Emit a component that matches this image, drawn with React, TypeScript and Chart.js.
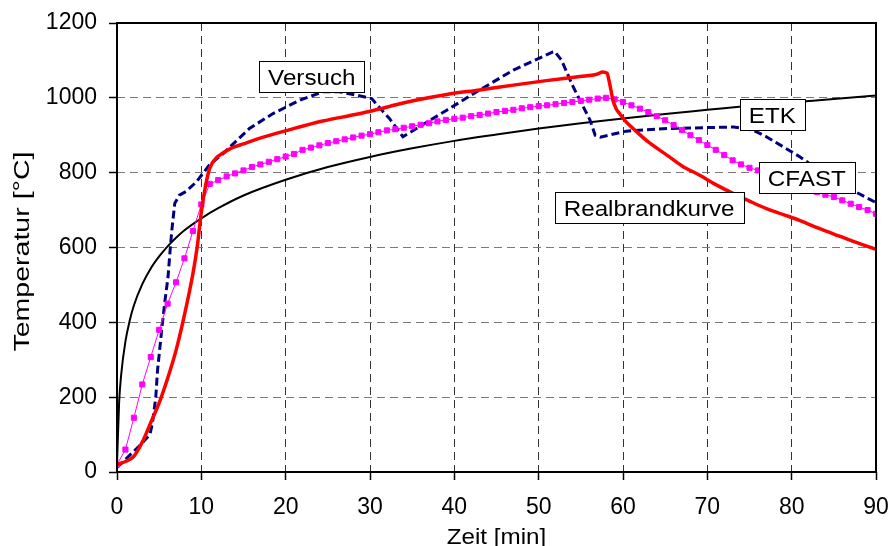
import React, { useEffect, useRef } from 'react';
import { Chart, registerables } from 'chart.js';

Chart.register(...registerables);

const FONT = '"Liberation Sans", Arial, Helvetica, sans-serif';

// ETK (Einheits-Temperaturzeitkurve), values
const etkTime = [0, 0.25, 0.5, 1, 1.5, 2, 3, 4, 5, 6, 7, 8, 10, 12, 15, 20, 25, 30, 35, 40, 45, 50, 55, 60, 65, 70, 75, 80, 85, 90];
const etkTemp = [20, 185, 261, 349, 404, 445, 502, 544, 576, 603, 626, 646, 678, 705, 739, 781, 815, 842, 865, 885, 902, 918, 932, 945, 957, 968, 979, 988, 997, 1006];

// Versuch (test measurement)
const versuchTime = [0, 1.1, 2.3, 3.1, 3.9, 4.2, 4.6, 4.8, 5.3, 5.7, 6.05, 6.3, 6.5, 6.85, 7.4, 8.2, 9.4, 11.0, 12.6, 13.4, 15.7, 18.5, 21.7, 24.4, 26.4, 28.4, 30.2, 31.2, 32.3, 33.9, 39.1, 43.0, 47.0, 51.7, 51.9, 52.7, 54.1, 56.1, 56.7, 57.3, 60.4, 65.2, 73.1, 75.4, 77.0, 81.0, 84.9, 90];
const versuchTemp = [12, 36, 62, 80, 100, 130, 200, 270, 380, 460, 521, 593, 646, 718, 740, 750, 775, 822, 851, 869, 918, 958, 994, 1016, 1016, 1007, 998, 972, 945, 896, 967, 1021, 1074, 1123, 1124, 1101, 1029, 940, 900, 895, 911, 918, 922, 914, 896, 842, 780, 720];

// Realbrandkurve
const realTime = [0, 1, 2, 3, 4, 5, 6, 7, 8, 9, 9.5, 10, 10.5, 11, 11.8, 12.6, 13.5, 15, 16.5, 20.5, 24.4, 28.4, 32.3, 35.1, 39.1, 43, 47, 50.9, 54.9, 56.9, 57.6, 58.1, 58.4, 58.8, 59.2, 59.6, 60.4, 61.2, 63, 65.2, 67, 69.1, 71, 73.1, 75, 77, 79, 81, 83, 85, 87, 90];
const realTemp = [20, 28, 42, 80, 132, 185, 250, 325, 420, 530, 600, 695, 765, 812, 840, 853, 865, 877, 889, 915, 938, 956, 977, 992, 1009, 1021, 1034, 1046, 1057, 1063, 1069, 1066, 1040, 995, 970, 958, 935, 918, 882, 847, 818, 793, 768, 744, 724, 704, 688, 672, 653, 636, 619, 595];

// CFAST, one value per minute 0..90
const cfastTemp = [
  20, 60, 145, 234, 307, 380, 450, 507, 571, 644,
  715, 770, 780, 790, 798, 806, 815, 822, 829, 836,
  843, 850, 861, 867, 873, 879, 884, 889, 894, 899,
  903, 908, 913, 916, 920, 924, 928, 932, 937, 941,
  944, 947, 951, 954, 958, 962, 965, 968, 972, 975,
  978, 980, 983, 986, 989, 992, 995, 998, 1000, 996,
  989, 980, 971, 962, 951, 940, 927, 914, 900, 887,
  874, 861, 847, 833, 822, 813, 806, 798, 790, 781,
  772, 764, 756, 748, 741, 735, 726, 717, 708, 700,
  690,
];

// Axis ticks
const xMin = 0, xMax = 90, xStep = 10;
const yMin = 0, yMax = 1200, yStep = 200;

// In-chart labels (anchored in data coordinates)
const labelTexts = ['Versuch', 'ETK', 'CFAST', 'Realbrandkurve'];
const labelX = [23.1, 77.7, 81.8, 63.1];
const labelY = [1056, 955, 786, 706];

const xTitle = 'Zeit [min]';
const yTitle = 'Temperatur [°C]';

const toPts = (xs: number[], ys: number[]) => xs.map((x, i) => ({ x, y: ys[i] }));

const overlay = {
  id: 'overlay',
  afterDatasetsDraw(chart: any) {
    const { ctx, chartArea: a, scales } = chart;
    ctx.save();
    // frame
    ctx.strokeStyle = '#000';
    ctx.lineWidth = 2;
    ctx.strokeRect(a.left, a.top, a.right - a.left, a.bottom - a.top);

    // labels
    labelTexts.forEach((t, i) => {
      const cx = scales.x.getPixelForValue(labelX[i]);
      const cy = scales.y.getPixelForValue(labelY[i]);
      ctx.font = `22px ${FONT}`;
      const w = ctx.measureText(t).width * 1.1;
      const bw = w + 18;
      const bh = 31;
      const bx = Math.round(cx - bw / 2);
      const by = Math.round(cy - bh / 2);
      ctx.fillStyle = '#fff';
      ctx.fillRect(bx, by, bw, bh);
      ctx.strokeStyle = '#000';
      ctx.lineWidth = 1;
      ctx.strokeRect(bx + 0.5, by + 0.5, Math.round(bw), bh);
      ctx.save();
      ctx.translate(cx, cy + 8);
      ctx.scale(1.1, 1);
      ctx.textAlign = 'center';
      ctx.textBaseline = 'alphabetic';
      ctx.fillStyle = '#000';
      ctx.fillText(t, 0, 0);
      ctx.restore();
    });

    // x title
    ctx.font = `22px ${FONT}`;
    ctx.fillStyle = '#000';
    ctx.save();
    ctx.translate((a.left + a.right) / 2, 544);
    ctx.scale(1.1, 1);
    ctx.textAlign = 'center';
    ctx.textBaseline = 'alphabetic';
    ctx.fillText(xTitle, 0, 0);
    ctx.restore();

    // y title
    ctx.save();
    const yw = ctx.measureText(yTitle).width;
    ctx.translate(28.5, (a.top + a.bottom) / 2 + 4);
    ctx.rotate(-Math.PI / 2);
    ctx.scale(200 / yw, 1);
    ctx.textAlign = 'center';
    ctx.textBaseline = 'alphabetic';
    ctx.fillText(yTitle, 0, 0);
    ctx.restore();

    ctx.restore();
  },
};

export default function App() {
  const ref = useRef<HTMLCanvasElement>(null);
  useEffect(() => {
    const chart = new Chart(ref.current!, {
      type: 'line',
      data: {
        datasets: [
          {
            label: 'Realbrandkurve',
            data: toPts(realTime, realTemp),
            borderColor: '#FF0000',
            borderWidth: 3.5,
            pointRadius: 0,
            cubicInterpolationMode: 'monotone',
            order: 0,
          },
          {
            label: 'CFAST',
            data: cfastTemp.map((y, i) => ({ x: i, y })),
            borderColor: '#FF00FF',
            borderWidth: 1,
            pointStyle: 'rect',
            pointRadius: 3.6,
            pointBackgroundColor: '#FF00FF',
            pointBorderColor: '#FF00FF',
            pointBorderWidth: 1,
            order: 1,
          },
          {
            label: 'Versuch',
            data: toPts(versuchTime, versuchTemp),
            borderColor: '#000080',
            borderWidth: 3,
            borderDash: [8, 4],
            pointRadius: 0,
            order: 2,
          },
          {
            label: 'ETK',
            data: toPts(etkTime, etkTemp),
            borderColor: '#000000',
            borderWidth: 2,
            pointRadius: 0,
            cubicInterpolationMode: 'monotone',
            order: 3,
          },
        ],
      },
      options: {
        animation: false,
        responsive: true,
        maintainAspectRatio: false,
        layout: { padding: { top: 23, right: 16, left: 0, bottom: 0 } },
        plugins: { legend: { display: false }, tooltip: { enabled: false } },
        scales: {
          x: {
            type: 'linear',
            min: xMin,
            max: xMax,
            afterFit: (s: any) => {
              s.height = 74;
              s.paddingLeft = 0;
              s.paddingRight = 0;
            },
            ticks: {
              stepSize: xStep,
              color: '#000',
              font: { size: 23, family: FONT },
              padding: 14,
              maxRotation: 0,
              autoSkip: false,
              callback: (v: any) => String(v),
            },
            grid: { color: '#333', lineWidth: 1, tickColor: '#000', tickLength: 8, tickWidth: 1.5 },
            border: { display: false, dash: [8, 5] },
          },
          y: {
            type: 'linear',
            min: yMin,
            max: yMax,
            afterFit: (s: any) => {
              s.width = 117;
              s.paddingTop = 0;
              s.paddingBottom = 0;
            },
            ticks: {
              stepSize: yStep,
              color: '#000',
              font: { size: 23, family: FONT },
              padding: 12,
              callback: (v: any) => String(v),
            },
            grid: { color: '#7a7a7a', lineWidth: 1, tickColor: '#000', tickLength: 8, tickWidth: 1.5 },
            border: { display: false, dash: [8, 5] },
          },
        },
      },
      plugins: [overlay],
    } as any);
    return () => chart.destroy();
  }, []);
  return (
    <div style={{ position: 'fixed', left: 0, top: 0, width: 892, height: 546, background: '#fff' }}>
      <canvas ref={ref} />
    </div>
  );
}
